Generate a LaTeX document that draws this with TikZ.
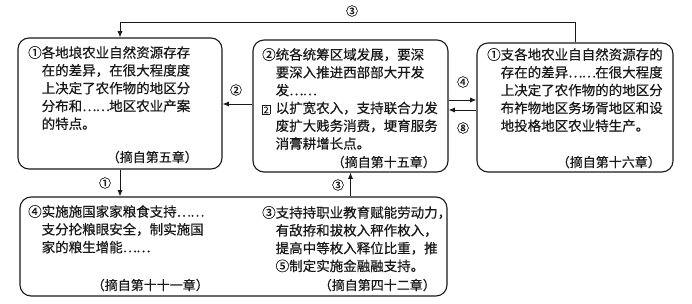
\documentclass[tikz,border=0pt]{standalone}
\usepackage{fontspec}
\setmainfont{Noto Sans CJK SC}[FakeBold=0.5]
\usetikzlibrary{arrows.meta}
\definecolor{ink}{RGB}{25,25,25}
\newcommand{\sqtwo}{\makebox[1em][l]{\fboxsep=0.8pt\fboxrule=0.8pt\fbox{\fontsize{9}{9}\selectfont 2}}}
\newcommand{\ellip}{\makebox[1em][l]{…}\makebox[1em][l]{…}}
\tikzset{
  >={Latex[length=2.2mm,width=1.8mm]},
  chap/.style={draw=ink,line width=1.1pt,rounded corners=11pt},
  para/.style={anchor=north west,align=left,inner sep=0pt,text=ink,
    font=\fontsize{13.5}{17.8}\selectfont},
  src/.style={anchor=base east,inner sep=0pt,text=ink,font=\fontsize{13}{13}\selectfont},
  flow/.style={->,draw=ink,line width=0.9pt},
  num/.style={inner sep=1pt,text=ink,font=\fontsize{12}{12}\selectfont},
}
\begin{document}
\begin{tikzpicture}[x=1pt,y=-1pt]
  \useasboundingbox (0,0) rectangle (692,303);
  % chapter boxes
  \node[chap,minimum width=204pt,minimum height=131pt] (wu) at (120,103.5) {};
  \node[chap,minimum width=195pt,minimum height=132pt] (shiwu) at (350.5,106) {};
  \node[chap,minimum width=196pt,minimum height=129pt] (shiliu) at (575,107.5) {};
  \node[chap,minimum width=427pt,minimum height=99pt] (di) at (233.5,246.5) {};
  % texts
  \node[para] (wu-t) at (28,46) {①各地埌农业自然资源存存\\
    \hspace*{1em}在的差异，在很大程度度\\
    \hspace*{1em}上决定了农作物的地区分\\
    \hspace*{1em}分布和\ellip 地区农业产案\\
    \hspace*{1em}的特点。};
  \node[src] (wu-s) at (198,162) {（摘自第五章）};
  \node[para] (shiwu-t) at (262,48) {②统各统筹区域发展，要深\\
    \hspace*{1em}要深入推进西部部大开发\\
    \hspace*{1em}发\ellip\\
    \sqtwo 以扩宽农入，支持联合力发\\
    \hspace*{1em}废扩大贱务消费，埂育服务\\
    \hspace*{1em}消膏耕增长点。};
  \node[src] (shiwu-s) at (436,167) {（摘自第十五章）};
  \node[para] (shiliu-t) at (487,48) {①支各地农业自自然资源存的\\
    \hspace*{1em}存在的差异\ellip 在很大程度\\
    \hspace*{1em}上决定了农作物的的地区分\\
    \hspace*{1em}布祚物地区务场胥地区和设\\
    \hspace*{1em}地投格地区农业特生产。};
  \node[src] (shiliu-s) at (661,167) {（摘自第十六章）};
  \node[para] (di-t1) at (28,205) {④实施施国家家粮食支持\ellip\\
    \hspace*{1em}支分抡粮眼安全，制实施国\\
    \hspace*{1em}家的粮生增能\ellip};
  \node[src] (di-s1) at (209,290) {（摘自第十十一章）};
  \node[para] (di-t2) at (262,206) {③支持持职业教育赋能劳动力，\\
    \hspace*{1em}有敌拵和拔枚入秤作枚入，\\
    \hspace*{1em}提高中等枚入释位比重，推\\
    \hspace*{1em}⑤制定实施金融融支持。};
  \node[src] (di-s2) at (436,290) {（摘自第四十二章）};
  % connectors
  \coordinate (top) at (350,22);
  \coordinate (r2) at (0,104);
  \coordinate (r4) at (0,100);
  \coordinate (r8) at (0,110);
  \draw[flow] (shiliu.north) -- (shiliu.north |- top) -| (wu.north);
  \draw[flow] (shiwu.west |- r2) -- (wu.east |- r2);
  \draw[flow] (shiwu.east |- r4) -- (shiliu.west |- r4);
  \draw[flow] (shiliu.west |- r8) -- (shiwu.east |- r8);
  \draw[flow] (wu.south) -- (wu.south |- di.north);
  \draw[flow] (di.north -| shiwu.south) -- (shiwu.south);
  % arrow labels
  \node[num] (l-top) at (352,11) {③};
  \node[num] (l-2) at (236,90) {②};
  \node[num] (l-4) at (463,82) {④};
  \node[num] (l-8) at (463,128) {⑧};
  \node[num] (l-1) at (105,183) {①};
  \node[num] (l-3) at (338,185) {③};
\end{tikzpicture}
\end{document}
